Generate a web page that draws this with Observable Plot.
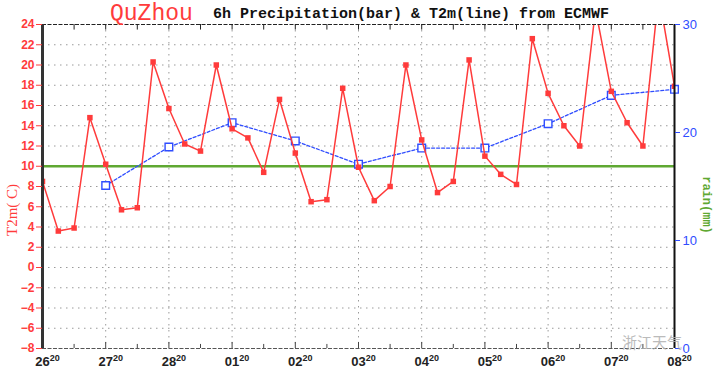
<!DOCTYPE html>
<html>
<head>
<meta charset="utf-8">
<script src="https://cdn.jsdelivr.net/npm/d3@7"></script>
<script src="https://cdn.jsdelivr.net/npm/@observablehq/plot@0.6"></script>
<style>
  html, body { margin: 0; padding: 0; background: #fff; }
  #chart { width: 720px; height: 374px; position: relative; }
</style>
</head>
<body>
<div id="chart"></div>
<script>
// ---- data (hours since 26th 20h) ----
const tempHours = d3.range(0, 241, 6);
const tempValues = [8.5, 3.6, 3.9, 14.8, 10.2, 5.7, 5.9, 20.3, 15.7, 12.2, 11.5, 20.0, 13.7, 12.8, 9.4,
  16.6, 11.3, 6.5, 6.7, 17.7, 9.9, 6.6, 8.0, 20.0, 12.6, 7.4, 8.5, 20.5, 11.0, 9.2, 8.2,
  22.6, 17.2, 14.0, 12.0, 25.5, 17.4, 14.3, 12.0, 27.0, 17.9];
const dailyHours = [24, 48, 72, 96, 120, 144, 168, 192, 216, 240];
const dailyValues = [8.1, 11.9, 14.3, 12.5, 10.2, 11.8, 11.8, 14.2, 17.0, 17.6];
const dayLabels = ["26", "27", "28", "01", "02", "03", "04", "05", "06", "07", "08"];
const hourLabel = "20";
const leftTicks = d3.range(-8, 25, 2);
const rainTicks = [0, 10, 20, 30];
const refLine = [10];

const tempData = tempHours.map((h, i) => ({h, v: tempValues[i]}));
const dailyData = dailyHours.map((h, i) => ({h, v: dailyValues[i]}));
const rainToT = r => -8 + r * 32 / 30;

const red = "#ff3b3b", blue = "#2f4dff", green = "#5fa832";
const dots = "1.5,4.5";

const chart = Plot.plot({
  width: 720, height: 374,
  marginLeft: 42, marginRight: 46, marginTop: 24, marginBottom: 26,
  x: {domain: [0, 240]},
  y: {domain: [-8, 24]},
  style: {background: "#fff", overflow: "visible", fontFamily: "'Liberation Sans', Arial, sans-serif"},
  marks: [
    Plot.ruleY(d3.range(-6, 24, 2), {stroke: "#9a9a9a", strokeDasharray: dots, strokeWidth: 1}),
    Plot.ruleX(d3.range(24, 240, 24), {stroke: "#9a9a9a", strokeDasharray: dots, strokeWidth: 1}),
    Plot.ruleY(refLine, {stroke: green, strokeWidth: 2.5}),
    Plot.line(dailyData, {x: "h", y: "v", stroke: blue, strokeWidth: 1.3, strokeDasharray: "3,2"}),
    Plot.dot(dailyData, {x: "h", y: "v", symbol: "square", r: 4.3, stroke: blue, fill: "#fff", strokeWidth: 1.4}),
    Plot.line(tempData, {x: "h", y: "v", stroke: red, strokeWidth: 1.5, clip: true}),
    Plot.dot(tempData, {x: "h", y: "v", symbol: "square", r: 3.1, fill: red, clip: true}),
    // frame
    Plot.ruleY([24], {stroke: "#222", strokeWidth: 1.2, strokeDasharray: "4,1.5"}),
    Plot.ruleY([-8], {stroke: "#555", strokeWidth: 1.2, strokeDasharray: "4,1.5"}),
    Plot.ruleX(d3.range(12, 240, 12), {y1: 24, y2: 23.45, stroke: "#222", strokeWidth: 1}),
    Plot.ruleX(d3.range(12, 240, 12), {y1: -8, y2: d => d % 24 === 0 ? -7.4 : -7.6, stroke: "#444", strokeWidth: 1}),
    Plot.ruleX([0], {stroke: "#333", strokeWidth: 3}),
    Plot.ruleX([240], {stroke: "#111", strokeWidth: 2}),
    // axes
    Plot.axisY({anchor: "left", ticks: leftTicks, tickSize: 6, tickPadding: 2, color: red,
      fontSize: 12, fontWeight: "bold", label: null}),
    Plot.axisY({anchor: "right", ticks: rainTicks.map(rainToT), tickFormat: d => String(Math.round((d + 8) * 30 / 32)),
      tickSize: 5, tickPadding: 3, color: blue, fontSize: 13, label: null}),
    Plot.axisX({ticks: d3.range(0, 241, 24), tickFormat: d => dayLabels[d / 24], tickSize: 0, tickPadding: 8,
      fontSize: 13, fontWeight: "bold", fill: "#222", dx: 5, label: null})
  ]
});

document.getElementById("chart").appendChild(chart);
const svg = d3.select(chart);

// superscript hours on x tick labels
svg.selectAll('g[aria-label="x-axis tick label"] text').each(function() {
  const t = this.textContent;
  this.textContent = "";
  const s = d3.select(this);
  s.append("tspan").text(t);
  s.append("tspan").attr("dy", "-5").attr("font-size", "9").text(hourLabel);
});

// titles
svg.append("text").attr("x", 110).attr("y", 20).attr("text-anchor", "start")
  .attr("font-family", "'Liberation Mono', monospace").attr("font-size", 23).attr("fill", red)
  .text("QuZhou");
svg.append("text").attr("x", 213).attr("y", 18).attr("text-anchor", "start")
  .attr("font-family", "'Liberation Mono', monospace").attr("font-size", 15).attr("font-weight", "bold").attr("fill", "#111")
  .text("6h Precipitation(bar) & T2m(line) from ECMWF");

// axis labels
svg.append("text").attr("transform", "translate(17,210) rotate(-90)").attr("text-anchor", "middle")
  .attr("font-family", "'Liberation Serif', serif").attr("font-size", 15).attr("fill", red)
  .text("T2m( C)");
svg.append("text").attr("transform", "translate(703,205) rotate(90)").attr("text-anchor", "middle")
  .attr("font-family", "'Liberation Mono', monospace").attr("font-size", 12).attr("font-weight", "bold").attr("fill", green)
  .text("rain(mm)");

// watermark
svg.append("text").attr("x", 622).attr("y", 348).attr("text-anchor", "start")
  .attr("font-family", "'Noto Sans CJK SC', sans-serif").attr("font-size", 15).attr("fill", "#b0b0b0").attr("opacity", 0.85)
  .text("浙江天气");
</script>
</body>
</html>
